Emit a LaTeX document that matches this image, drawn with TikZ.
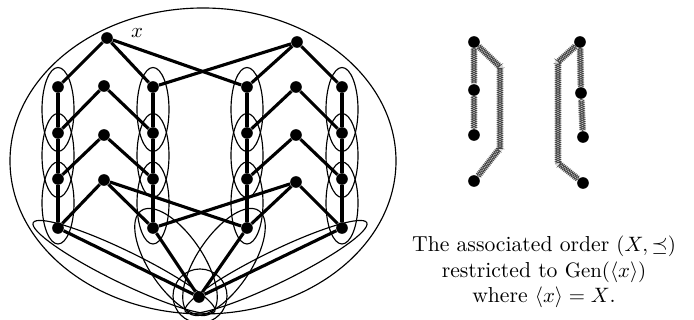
\documentclass[tikz,border=0pt]{standalone}
\usepackage{amssymb}
\usepackage{tikz}
\usetikzlibrary{shapes,arrows,positioning,calc,decorations.pathmorphing}

\begin{document}
\begin{tikzpicture}[x=0.48pt,y=-0.48pt,
  vtx/.style={circle,fill=black,inner sep=0pt,minimum size=5.6pt},
  edge/.style={line width=1.5pt},
  blob/.style={line width=0.55pt},
  chainbg/.style={line width=3pt,black!15},
  chainzz/.style={decorate,decoration={zigzag,segment length=1.8pt,amplitude=1.3pt},line width=0.3pt,black!75},
  chainzm/.style={decorate,decoration={zigzag,segment length=1.8pt,amplitude=1.3pt,mirror},line width=0.3pt,black!75}]
\useasboundingbox (0,0) rectangle (694,320);
% the big set and its blocks
\draw[blob] (203,161) ellipse (193 and 153);
\draw[blob] (58,109.5) ellipse (16 and 42);
\draw[blob] (58,155.5) ellipse (16 and 42);
\draw[blob] (58,203) ellipse (16 and 41);
\draw[blob] (153,109.5) ellipse (16 and 42);
\draw[blob] (153,155.5) ellipse (16 and 42);
\draw[blob] (153,203) ellipse (16 and 41);
\draw[blob] (247,109.5) ellipse (16 and 42);
\draw[blob] (247,155.5) ellipse (16 and 42);
\draw[blob] (247,203) ellipse (16 and 41);
\draw[blob] (342,109.5) ellipse (16 and 42);
\draw[blob] (342,155.5) ellipse (16 and 42);
\draw[blob] (342,203) ellipse (16 and 41);
\draw[blob,rotate around={-26:(124,267)}] (124,267) ellipse (101 and 16);
\draw[blob,rotate around={26:(276,267)}] (276,267) ellipse (101 and 16);
\draw[blob,rotate around={-56:(176,262)}] (176,262) ellipse (62 and 27);
\draw[blob,rotate around={56:(224,262)}] (224,262) ellipse (62 and 27);
\draw[blob] (200,296) circle (27);

% points
\node[vtx] (x) at (107,38) {};
\node[vtx] (y) at (297,42) {};
\node[vtx] (a1) at (58,87) {};
\node[vtx] (a2) at (58,133) {};
\node[vtx] (a3) at (58,179) {};
\node[vtx] (a4) at (58,228) {};
\node[vtx] (b1) at (104,86) {};
\node[vtx] (b2) at (104,135) {};
\node[vtx] (b3) at (104,180) {};
\node[vtx] (c1) at (153,87) {};
\node[vtx] (c2) at (153,133) {};
\node[vtx] (c3) at (153,179) {};
\node[vtx] (c4) at (153,228) {};
\node[vtx] (d1) at (247,87) {};
\node[vtx] (d2) at (247,133) {};
\node[vtx] (d3) at (247,179) {};
\node[vtx] (d4) at (247,228) {};
\node[vtx] (e1) at (296,87) {};
\node[vtx] (e2) at (296,135) {};
\node[vtx] (e3) at (296,182) {};
\node[vtx] (f1) at (342,87) {};
\node[vtx] (f2) at (342,133) {};
\node[vtx] (f3) at (342,179) {};
\node[vtx] (f4) at (342,228) {};
\node[vtx] (z) at (199,297) {};
\node (xl) at (137,33) {$x$};

% the order
\draw[edge] (a1) -- (x) -- (c1);
\draw[edge] (x) -- (d1);
\draw[edge] (c1) -- (y) -- (d1);
\draw[edge] (y) -- (f1);
\draw[edge] (a1) -- (a2) -- (a3) -- (a4);
\draw[edge] (c1) -- (c2) -- (c3) -- (c4);
\draw[edge] (d1) -- (d2) -- (d3) -- (d4);
\draw[edge] (f1) -- (f2) -- (f3) -- (f4);
\draw[edge] (a2) -- (b1) -- (c2);
\draw[edge] (a3) -- (b2) -- (c3);
\draw[edge] (a4) -- (b3) -- (c4);
\draw[edge] (b3) -- (d4);
\draw[edge] (d2) -- (e1) -- (f2);
\draw[edge] (d3) -- (e2) -- (f3);
\draw[edge] (d4) -- (e3) -- (f4);
\draw[edge] (e3) -- (c4);
\draw[edge] (a4) -- (z) -- (c4);
\draw[edge] (d4) -- (z) -- (f4);

% restricted order
\node[vtx] (p1) at (474,42) {};
\node[vtx] (p2) at (474,90) {};
\node[vtx] (p3) at (474,135) {};
\node[vtx] (p4) at (474,181) {};
\node[vtx] (q1) at (580,42) {};
\node[vtx] (q2) at (581,93) {};
\node[vtx] (q3) at (583,137) {};
\node[vtx] (q4) at (583,183) {};
\coordinate (pa) at (500,67);
\coordinate (pb) at (500,148);
\coordinate (qa) at (558,62);
\coordinate (qb) at (558,163);
\draw[chainbg] (p1) -- (p2) -- (p3);
\draw[chainbg] (p1) -- (pa) -- (pb) -- (p4);
\draw[chainbg] (q1) -- (q2) -- (q3);
\draw[chainbg] (q1) -- (qa) -- (qb) -- (q4);
\draw[chainzz] (p1) -- (p2) -- (p3);
\draw[chainzm] (p1) -- (p2) -- (p3);
\draw[chainzz] (p1) -- (pa) -- (pb) -- (p4);
\draw[chainzm] (p1) -- (pa) -- (pb) -- (p4);
\draw[chainzz] (q1) -- (q2) -- (q3);
\draw[chainzm] (q1) -- (q2) -- (q3);
\draw[chainzz] (q1) -- (qa) -- (qb) -- (q4);
\draw[chainzm] (q1) -- (qa) -- (qb) -- (q4);

\node[align=center,font=\fontsize{10.4pt}{12.2pt}\selectfont] (cap) at (544,272) {The associated order $(X,\preceq)$\\ restricted to $\mathrm{Gen}(\langle x\rangle)$\\ where $\langle x\rangle = X$.};

\end{tikzpicture}
\end{document}
